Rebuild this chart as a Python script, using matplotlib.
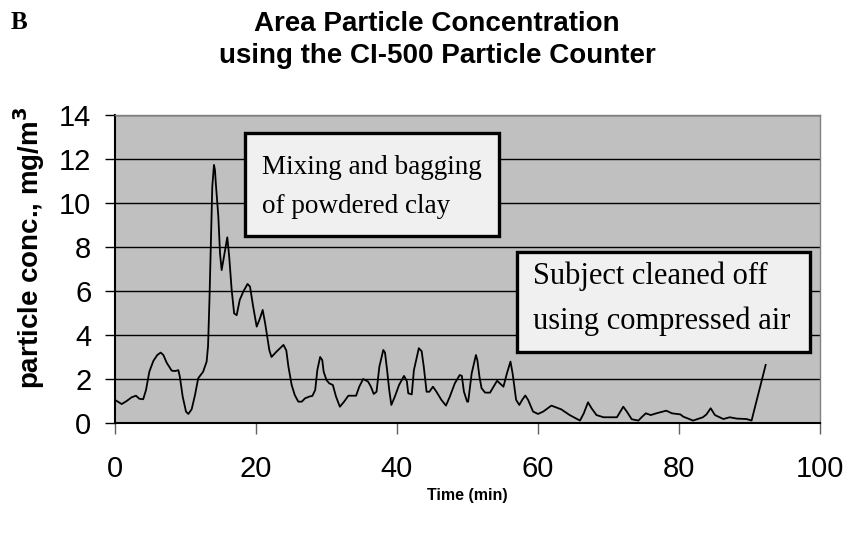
import matplotlib.pyplot as plt
from matplotlib.patches import Rectangle

# digitised readings (minutes, mg/m3)
time_min = [0, 0.95, 1.66, 2.37, 2.98, 3.45, 4.0, 4.4, 4.87, 5.44, 6.0, 6.48, 6.86, 7.33,
            8.04, 8.5, 8.99, 9.2, 9.6, 10.07, 10.4, 10.87, 11.35, 11.8, 12.5, 13.0, 13.2,
            13.4, 13.57, 13.8, 14.04, 14.18, 14.3, 14.66, 14.9, 15.13, 15.46, 15.93, 16.2,
            16.55, 16.9, 17.26, 17.7, 18.2, 18.8, 19.15, 19.6, 20.1, 20.57, 20.95, 21.3,
            21.6, 21.9, 22.2, 22.9, 23.9, 24.3, 24.6, 25.06, 25.5, 26.0, 26.5, 26.95,
            27.56, 28.0, 28.4, 28.7, 29.1, 29.4, 29.6, 30.0, 30.4, 30.9, 31.35, 31.9, 32.5,
            33.1, 34.2, 34.65, 35.2, 35.9, 36.3, 36.7, 37.1, 37.5, 38.06, 38.3, 38.6, 38.9,
            39.2, 39.7, 40.3, 41.0, 41.4, 41.6, 42.1, 42.4, 43.1, 43.5, 43.8, 44.2, 44.6,
            45.1, 45.6, 46.3, 46.95, 47.5, 48.2, 48.9, 49.2, 49.5, 49.95, 50.1, 50.6, 51.2,
            51.4, 51.7, 52.0, 52.5, 53.2, 53.7, 54.2, 54.7, 55.1, 55.6, 56.1, 56.4, 56.9,
            57.35, 57.8, 58.2, 58.6, 59.3, 60.0, 60.75, 61.9, 63.3, 64.5, 65.96, 66.5, 67.1,
            67.6, 68.3, 69.3, 71.2, 72.1, 72.6, 73.3, 74.25, 74.7, 75.3, 76.0, 76.8, 78.2,
            79.0, 80.2, 80.6, 82.0, 83.4, 83.9, 84.5, 85.1, 86.3, 87.2, 88.2, 89.6, 90.3,
            92.3]
conc = [1.05, 0.86, 1.0, 1.17, 1.24, 1.1, 1.08, 1.5, 2.33, 2.82, 3.09, 3.2, 3.09, 2.74,
        2.38, 2.36, 2.4, 2.1, 1.2, 0.52, 0.41, 0.62, 1.27, 2.03, 2.33, 2.79, 3.5,
        5.6, 7.86, 10.74, 11.73, 11.5, 10.9, 9.38, 7.7, 6.95, 7.56, 8.44, 7.56,
        6.05, 4.98, 4.9, 5.6, 5.97, 6.32, 6.2, 5.29, 4.38, 4.76, 5.14, 4.53,
        3.92, 3.3, 3.0, 3.24, 3.55, 3.3, 2.56, 1.73, 1.27, 0.97, 0.97, 1.12,
        1.2, 1.23, 1.5, 2.4, 3.0, 2.86, 2.33, 1.95, 1.8, 1.73, 1.2, 0.74, 0.97,
        1.24, 1.24, 1.65, 2.0, 1.88, 1.65, 1.32, 1.42, 2.56, 3.32, 3.2, 2.4, 1.5,
        0.82, 1.2, 1.73, 2.14, 1.9, 1.35, 1.3, 2.4, 3.4, 3.26, 2.56, 1.42, 1.42,
        1.65, 1.42, 1.05, 0.79, 1.2, 1.8, 2.18, 2.14, 1.42, 0.97, 0.97, 2.26, 3.09,
        2.86, 2.1, 1.58, 1.38, 1.38, 1.65, 1.92, 1.77, 1.65, 2.26, 2.79, 2.26, 1.05,
        0.82, 1.07, 1.25, 1.05, 0.52, 0.41, 0.52, 0.79, 0.62, 0.36, 0.11, 0.44, 0.94,
        0.67, 0.36, 0.26, 0.26, 0.74, 0.52, 0.17, 0.11, 0.26, 0.44, 0.36, 0.44, 0.56,
        0.44, 0.39, 0.29, 0.11, 0.26, 0.39, 0.67, 0.36, 0.18, 0.26, 0.2, 0.18, 0.11,
        2.64]

x_ticks = [0, 20, 40, 60, 80, 100]
y_ticks = [0, 2, 4, 6, 8, 10, 12, 14]

plt.rcParams['font.family'] = ['Liberation Sans', 'DejaVu Sans']

fig = plt.figure(figsize=(8.55, 5.46), dpi=100)
ax = fig.add_axes([0.1345, 0.2253, 0.8245, 0.5641])
ax.set_facecolor('#c0c0c0')

for v in y_ticks[1:]:
    ax.axhline(v, color='black', lw=1.0, zorder=1)

ax.plot(time_min, conc, color='black', lw=1.3, zorder=3)

ax.set_xlim(0, 100)
ax.set_ylim(0, 14)
ax.set_xticks(x_ticks)
ax.set_yticks(y_ticks)
ax.tick_params(axis='x', direction='out', length=8, width=1, color='#606060', pad=15, labelsize=21)
ax.tick_params(axis='y', direction='out', length=7, width=1, color='black', pad=10, labelsize=21)

for side in ['left', 'bottom']:
    ax.spines[side].set_color('black')
    ax.spines[side].set_linewidth(1.5)
for side in ['top', 'right']:
    ax.spines[side].set_color('#808080')
    ax.spines[side].set_linewidth(1.0)

ax.set_xlabel('Time (min)', fontsize=11.5, fontweight='bold', labelpad=4)
ax.set_ylabel('particle conc., mg/m$^\\mathbf{3}$', fontsize=20, fontweight='bold')
ax.yaxis.set_label_coords(-0.097, 0.57)

fig.text(0.511, 0.98, 'Area Particle Concentration\nusing the CI-500 Particle Counter',
         ha='center', va='top', fontsize=20, fontweight='bold', linespacing=1.3)
fig.text(0.012, 0.958, 'B', ha='left', va='center', fontsize=18, fontweight='bold',
         family='Liberation Serif')

# annotation boxes
ax.add_patch(Rectangle((18.44, 8.5), 36.03, 4.68, facecolor='#f0f0f0', edgecolor='black',
                       linewidth=2.4, zorder=5))
ax.add_patch(Rectangle((57.02, 3.23), 41.56, 4.54, facecolor='#f0f0f0', edgecolor='black',
                       linewidth=2.4, zorder=5))
ax.text(20.85, 10.73, 'Mixing and bagging\nof powdered clay', ha='left', va='center',
        fontsize=19.5, family='Liberation Serif', linespacing=1.71, zorder=6)
ax.text(59.3, 5.66, 'Subject cleaned off\nusing compressed air', ha='left', va='center',
        fontsize=22, family='Liberation Serif', linespacing=1.68, zorder=6)

fig.savefig('out.png', dpi=100)
